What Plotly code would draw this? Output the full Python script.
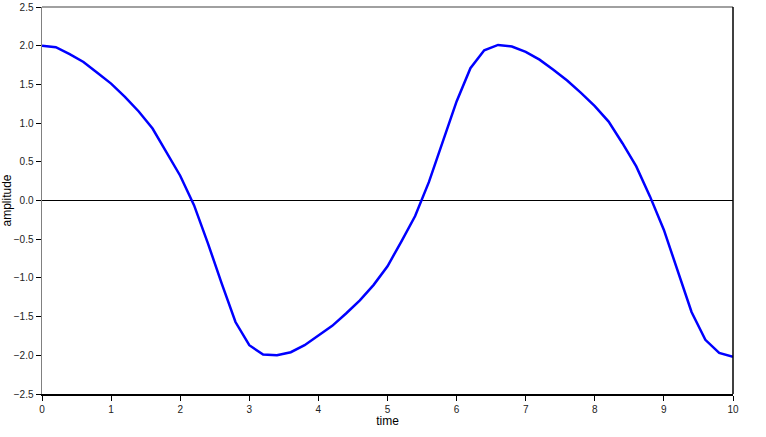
import plotly.graph_objects as go

time = [0.0, 0.2, 0.4, 0.6, 0.8, 1.0, 1.2, 1.4, 1.6, 1.8, 2.0,
        2.2, 2.4, 2.6, 2.8, 3.0, 3.2, 3.4, 3.6, 3.8, 4.0,
        4.2, 4.4, 4.6, 4.8, 5.0, 5.2, 5.4, 5.6, 5.8, 6.0,
        6.2, 6.4, 6.6, 6.8, 7.0, 7.2, 7.4, 7.6, 7.8, 8.0,
        8.2, 8.4, 8.6, 8.8, 9.0, 9.2, 9.4, 9.6, 9.8, 10.0]
amplitude = [2.00, 1.98, 1.89, 1.79, 1.65, 1.51, 1.34, 1.15, 0.93, 0.63, 0.32,
             -0.06, -0.55, -1.07, -1.57, -1.87, -1.99, -2.00, -1.96, -1.87, -1.75,
             -1.62, -1.46, -1.29, -1.09, -0.85, -0.53, -0.20, 0.24, 0.76, 1.28,
             1.71, 1.94, 2.01, 1.99, 1.92, 1.82, 1.69, 1.55, 1.39, 1.22,
             1.02, 0.74, 0.44, 0.05, -0.38, -0.92, -1.44, -1.80, -1.97, -2.02]

fig = go.Figure()
fig.add_trace(go.Scatter(x=time, y=amplitude, mode="lines",
                         line=dict(color="#0000FF", width=2.5),
                         showlegend=False, hoverinfo="skip"))

font = "Liberation Sans, Arial, sans-serif"
fig.update_layout(
    width=766, height=437,
    margin=dict(l=42, r=33, t=7, b=43, autoexpand=False),
    paper_bgcolor="white", plot_bgcolor="white",
    font=dict(family=font, size=10, color="#000000"),
    xaxis=dict(range=[0, 10], dtick=1, tick0=0, showgrid=False, zeroline=False,
               automargin=False,
               showline=True, linecolor="#000000", linewidth=1.5,
               ticks="outside", ticklen=5, tickcolor="#000000", tickwidth=1,
               tickfont=dict(size=10, family=font, color="#222222"),
               title=dict(text="time", font=dict(size=12, family=font), standoff=2)),
    yaxis=dict(range=[-2.5, 2.5], dtick=0.5, tick0=-2.5, tickformat=".1f",
               showgrid=False, zeroline=True, zerolinecolor="#000000", zerolinewidth=1,
               automargin=False,
               showline=True, linecolor="#808080", linewidth=1.5,
               ticks="outside", ticklen=5, tickcolor="#000000", tickwidth=1,
               tickfont=dict(size=10, family=font, color="#222222"),
               title=dict(text="amplitude", font=dict(size=12, family=font), standoff=2)),
    shapes=[
        dict(type="line", xref="paper", yref="paper", x0=0, x1=1, y0=1, y1=1,
             line=dict(color="#808080", width=1.5)),
        dict(type="line", xref="paper", yref="paper", x0=1, x1=1, y0=0, y1=1,
             line=dict(color="#000000", width=1.5)),
    ],
)

fig.write_html("out.html",
               config={"displayModeBar": False, "staticPlot": True},
               post_script="document.body.style.margin='0';document.body.style.overflow='hidden';")
